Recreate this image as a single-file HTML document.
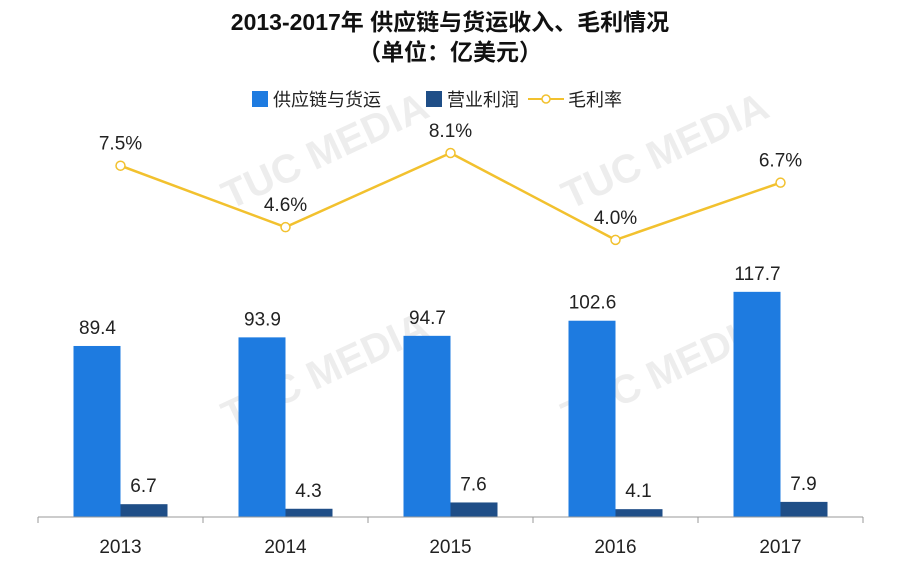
<!DOCTYPE html>
<html><head><meta charset="utf-8">
<style>
html,body{margin:0;padding:0;background:#fff;}
body{width:900px;height:567px;overflow:hidden;font-family:"Liberation Sans","Noto Sans CJK SC",sans-serif;}
</style></head>
<body>
<svg id="chart" width="900" height="567" xmlns="http://www.w3.org/2000/svg" font-family="Liberation Sans, Noto Sans CJK SC, sans-serif">
<g fill="#ededed" font-weight="bold" font-size="40">
<text x="230" y="210" transform="rotate(-25 230 210)">TUC MEDIA</text>
<text x="570" y="210" transform="rotate(-25 570 210)">TUC MEDIA</text>
<text x="230" y="430" transform="rotate(-25 230 430)">TUC MEDIA</text>
<text x="570" y="430" transform="rotate(-25 570 430)">TUC MEDIA</text>
</g>
<text x="450" y="30" text-anchor="middle" font-size="23" font-weight="bold" fill="#111">2013-2017年 供应链与货运收入、毛利情况</text>
<text x="450" y="60" text-anchor="middle" font-size="23" font-weight="bold" fill="#111">（单位：亿美元）</text>
<g font-size="18" fill="#222">
<rect x="252" y="91" width="16" height="16" fill="#1e7be0"/>
<text x="273" y="106">供应链与货运</text>
<rect x="426" y="91" width="16" height="16" fill="#1f4e87"/>
<text x="447" y="106">营业利润</text>
<line x1="528" y1="99" x2="564" y2="99" stroke="#f2c12e" stroke-width="2"/>
<circle cx="546" cy="99" r="4" fill="#fff" stroke="#f2c12e" stroke-width="1.5"/>
<text x="568" y="106">毛利率</text>
</g>
<g id="plot"></g>
</svg>
<script>
const categories = ["2013","2014","2015","2016","2017"];
const revenue = [89.4, 93.9, 94.7, 102.6, 117.7];
const profit = [6.7, 4.3, 7.6, 4.1, 7.9];
const margin = [7.5, 4.6, 8.1, 4.0, 6.7];
const marginLabels = ["7.5%","4.6%","8.1%","4.0%","6.7%"];

const NS="http://www.w3.org/2000/svg";
const plot=document.getElementById('plot');
const x0=38, step=165, base=517;
const yBar=v=>base - v*1.913;
const yLine=v=>324.7 - 21.2*v;
const cx=i=>x0+step*i+step/2;
function mk(tag,attrs){const e=document.createElementNS(NS,tag);for(const k in attrs)e.setAttribute(k,attrs[k]);plot.appendChild(e);return e;}

categories.forEach((c,i)=>{
  const r=mk('rect',{x:cx(i)-47,y:yBar(revenue[i]),width:47,height:base-yBar(revenue[i]),fill:'#1e7be0'});
  
  
  const p=mk('rect',{x:cx(i),y:yBar(profit[i]),width:47,height:base-yBar(profit[i]),fill:'#1f4e87'});
  
  
  const t1=mk('text',{x:cx(i)-23,y:yBar(revenue[i])-12,'text-anchor':'middle','font-size':'19',fill:'#222'});
  t1.textContent=revenue[i].toFixed(1);
  
  
  const t2=mk('text',{x:cx(i)+23,y:yBar(profit[i])-12,'text-anchor':'middle','font-size':'19',fill:'#222'});
  t2.textContent=profit[i].toFixed(1);
  
  
  const tk=mk('text',{x:cx(i),y:553,'text-anchor':'middle','font-size':'19',fill:'#222'});
  tk.textContent=c;
  
  
});
const ax=mk('line',{x1:x0,y1:base,x2:x0+step*categories.length,y2:base,stroke:'#999','stroke-width':1});


for(let i=0;i<=categories.length;i++){
  const t=mk('line',{x1:x0+step*i,y1:base,x2:x0+step*i,y2:base+6,stroke:'#999'});
  
  
}
const pl=mk('polyline',{points:margin.map((v,i)=>cx(i)+','+yLine(v)).join(' '),fill:'none',stroke:'#f2c12e','stroke-width':2.5});


margin.forEach((v,i)=>{
  const c=mk('circle',{cx:cx(i),cy:yLine(v),r:4.5,fill:'#fff',stroke:'#f2c12e','stroke-width':1.5});
  
  
  const t=mk('text',{x:cx(i),y:yLine(v)-16,'text-anchor':'middle','font-size':'19',fill:'#222'});
  t.textContent=marginLabels[i];
  
  
});
</script>
</body></html>
